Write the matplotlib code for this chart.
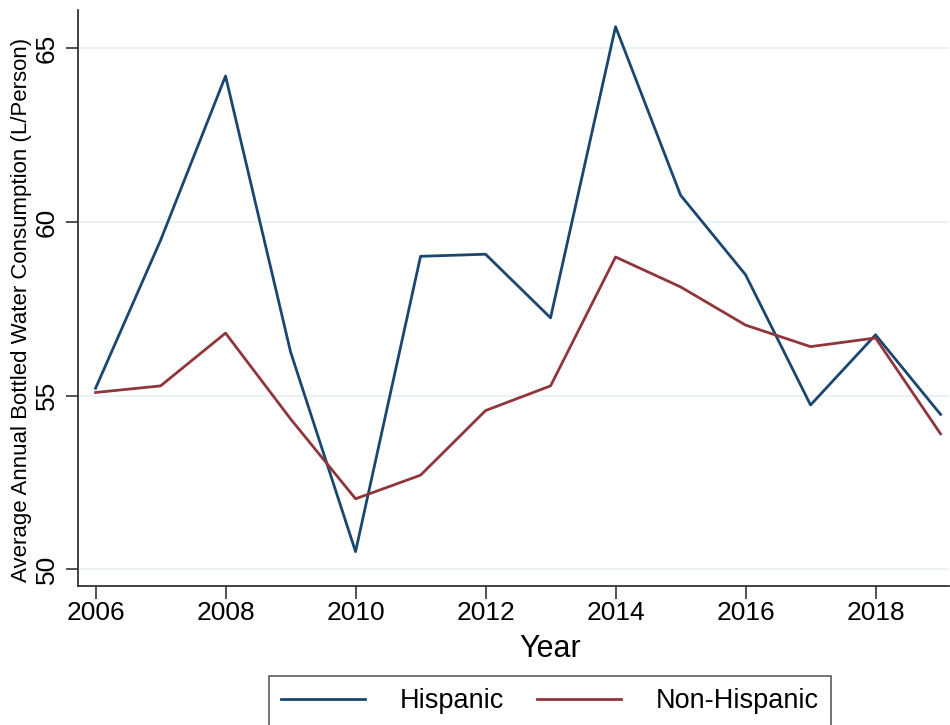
import matplotlib
matplotlib.use("Agg")
import matplotlib.pyplot as plt

# Annual bottled water consumption per person, by ethnicity
years = list(range(2006, 2020))
hispanic = [55.21, 59.47, 64.20, 56.26, 50.51, 59.01, 59.07, 57.24,
            65.62, 60.77, 58.48, 54.73, 56.75, 54.46]
non_hispanic = [55.09, 55.28, 56.80, 54.33, 52.03, 52.71, 54.57, 55.28,
                58.99, 58.13, 57.03, 56.41, 56.66, 53.90]
series_labels = ["Hispanic", "Non-Hispanic"]
x_ticks = [2006, 2008, 2010, 2012, 2014, 2016, 2018]
y_ticks = [50, 55, 60, 65]

plt.rcParams['font.family'] = ['Liberation Sans', 'DejaVu Sans']

fig = plt.figure(figsize=(9.5, 7.25), dpi=100)
ax = fig.add_axes([78 / 950, 1 - 586 / 725, 871 / 950, 576 / 725])

navy = '#1a476f'
maroon = '#90353b'
ax.plot(years, hispanic, color=navy, lw=2.0, label=series_labels[0])
ax.plot(years, non_hispanic, color=maroon, lw=2.0, label=series_labels[1])

ax.set_xlim(2005.73, 2019.13)
ax.set_ylim(49.52, 66.10)
ax.set_xticks(x_ticks)
ax.set_yticks(y_ticks)
ax.grid(axis='y', color='#eaf2f3', lw=1.5)
ax.set_axisbelow(True)

for side in ['top', 'right']:
    ax.spines[side].set_visible(False)
for side in ['left', 'bottom']:
    ax.spines[side].set_color('#333333')
    ax.spines[side].set_linewidth(1.3)

ax.tick_params(axis='both', length=9, width=1.2, color='#333333',
               labelsize=19)
ax.tick_params(axis='x', pad=2)
ax.tick_params(axis='y', pad=5)
plt.setp(ax.get_yticklabels(), rotation=90, va='center')

ax.set_xlabel('Year', fontsize=22)
ax.xaxis.set_label_coords((550 - 78) / 871, -0.083)
ax.set_ylabel('Average Annual Bottled Water Consumption (L/Person)', fontsize=16)
ax.yaxis.set_label_coords(-46 / 871, 0.48)

leg = fig.legend(loc='upper center', bbox_to_anchor=(550 / 950, 1 - 676 / 725),
                 ncol=2, fontsize=19.5, frameon=True, fancybox=False,
                 edgecolor='#333333', handlelength=3.1, columnspacing=1.2,
                 borderpad=0.45, handletextpad=1.3, borderaxespad=0)
leg.get_frame().set_linewidth(1.2)

fig.savefig('out.png', dpi=100)
